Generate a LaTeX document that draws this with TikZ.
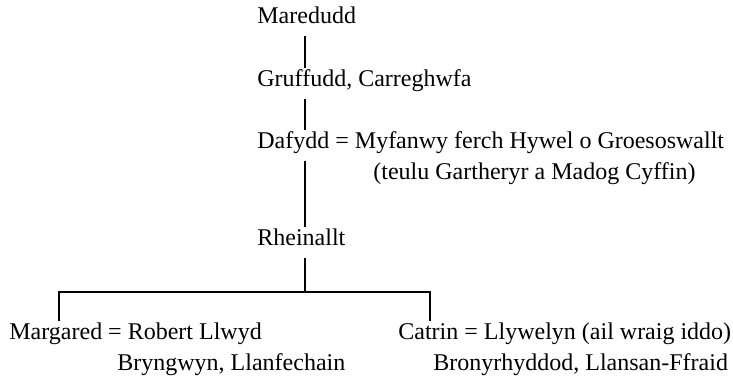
\documentclass[tikz,border=0pt]{standalone}
\usepackage{fontspec}
\setmainfont{Liberation Serif}
\usepackage{tikz}
\newcommand{\eq}{ = }

\begin{document}
\begin{tikzpicture}[x=0.5pt,y=-0.5pt]
                        \tikzstyle{person}=[anchor=base west, inner xsep=0pt, inner ysep=3pt, text height=6.5pt, text depth=3pt, font=\fontsize{12}{14}\selectfont]
                        \tikzstyle{line}=[line width=1pt]
                        \useasboundingbox (0,0) rectangle (733,384);
                        \coordinate (spine) at (305,0);
                        \coordinate (bar) at (305,292);
                        \coordinate (leftleg) at (59,292);
                        \coordinate (rightleg) at (430,292);
                        \node[person] (maredudd) at (257,24) {Maredudd};
                        \node[person] (gruffudd) at (257,87) {Gruffudd, Carreghwfa};
                        \node[person] (dafydd) at (257,149) {Dafydd\eq Myfanwy ferch Hywel o Groesoswallt};
                        \node[person] (teulu) at (373,180) {(teulu Gartheryr a Madog Cyffin)};
                        \node[person] (rheinallt) at (257,246) {Rheinallt};
                        \node[person] (margared) at (9,340) {Margared\eq Robert Llwyd};
                        \node[person] (bryngwyn) at (117,371) {Bryngwyn, Llanfechain};
                        \node[person] (catrin) at (398,340) {Catrin\eq Llywelyn (ail wraig iddo)};
                        \node[person] (bronyrhyddod) at (433,371) {Bronyrhyddod, Llansan-Ffraid};
                        \draw[line] (maredudd.south -| spine) -- (gruffudd.north -| spine);
                        \draw[line] (gruffudd.south -| spine) -- (dafydd.north -| spine);
                        \draw[line] (dafydd.south -| spine) -- (rheinallt.north -| spine);
                        \draw[line] (rheinallt.south -| spine) -- (bar);
                        \draw[line] (margared.north -| leftleg) |- (bar) -| (catrin.north -| rightleg);
                    \end{tikzpicture}
\end{document}
